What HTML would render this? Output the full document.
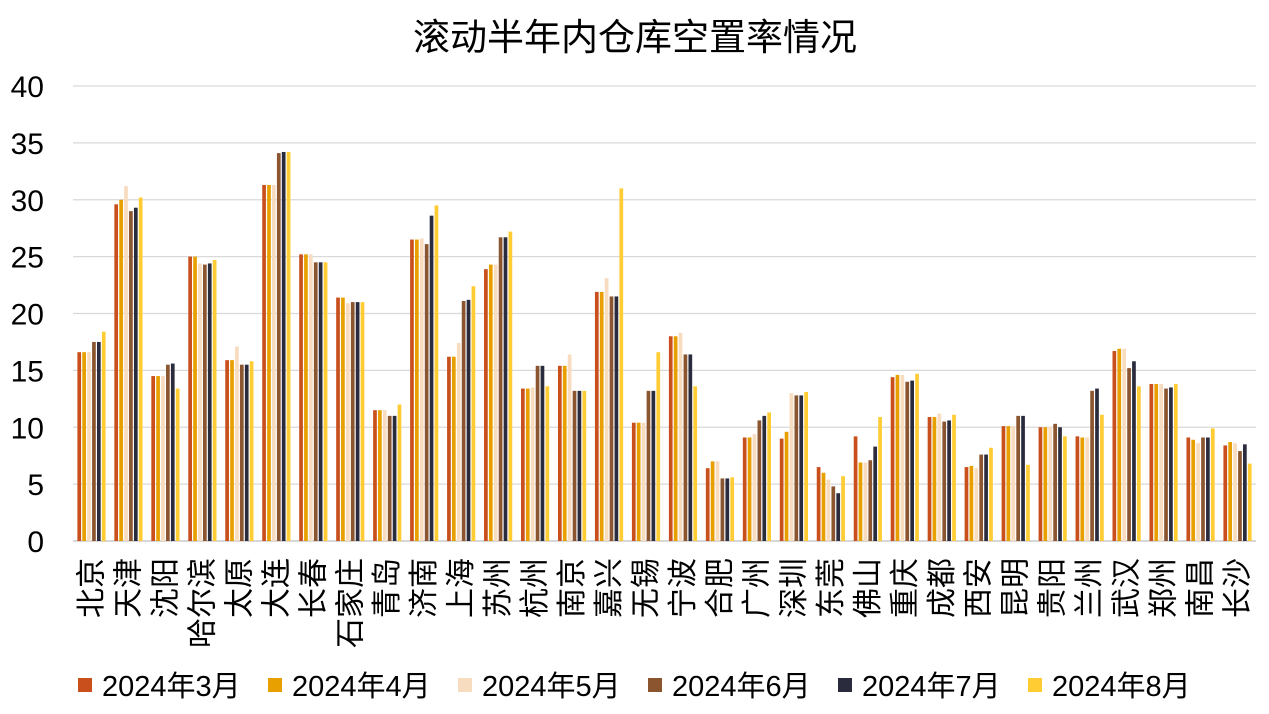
<!DOCTYPE html>
<html><head><meta charset="utf-8">
<style>
body{margin:0;background:#fff;}
svg{display:block;font-family:"Liberation Sans","Noto Sans CJK SC",sans-serif;}
</style></head>
<body>
<svg id="chart" width="1269" height="714">
<text x="635" y="50" text-anchor="middle" font-size="37" fill="#000">滚动半年内仓库空置率情况</text>
<g id="grid"></g><g id="bars"></g><g id="xlabels"></g><g id="ylabels"></g><g id="legend"></g>
</svg>
<script>
const categories=["北京","天津","沈阳","哈尔滨","太原","大连","长春","石家庄","青岛","济南","上海","苏州","杭州","南京","嘉兴","无锡","宁波","合肥","广州","深圳","东莞","佛山","重庆","成都","西安","昆明","贵阳","兰州","武汉","郑州","南昌","长沙"];
const seriesNames=["2024年3月","2024年4月","2024年5月","2024年6月","2024年7月","2024年8月"];
const s1=[16.6,29.6,14.5,25.0,15.9,31.3,25.2,21.4,11.5,26.5,16.2,23.9,13.4,15.4,21.9,10.4,18.0,6.4,9.1,9.0,6.5,9.2,14.4,10.9,6.5,10.1,10.0,9.2,16.7,13.8,9.1,8.4];
const s2=[16.6,30.0,14.5,25.0,15.9,31.3,25.2,21.4,11.5,26.5,16.2,24.3,13.4,15.4,21.9,10.4,18.0,7.0,9.1,9.6,6.0,6.9,14.6,10.9,6.6,10.1,10.0,9.1,16.9,13.8,8.9,8.7];
const s3=[16.6,31.2,14.5,24.4,17.1,31.3,25.2,20.9,11.5,26.6,17.4,24.3,13.5,16.4,23.1,10.4,18.3,7.0,9.4,13.0,5.4,6.9,14.6,11.2,6.4,10.1,10.0,9.1,16.9,13.8,8.6,8.6];
const s4=[17.5,29.0,15.5,24.3,15.5,34.1,24.5,21.0,11.0,26.1,21.1,26.7,15.4,13.2,21.5,13.2,16.4,5.5,10.6,12.8,4.8,7.1,14.0,10.5,7.6,11.0,10.3,13.2,15.2,13.4,9.1,7.9];
const s5=[17.5,29.3,15.6,24.4,15.5,34.2,24.5,21.0,11.0,28.6,21.2,26.7,15.4,13.2,21.5,13.2,16.4,5.5,11.0,12.8,4.2,8.3,14.1,10.6,7.6,11.0,10.0,13.4,15.8,13.5,9.1,8.5];
const s6=[18.4,30.2,13.4,24.7,15.8,34.2,24.5,21.0,12.0,29.5,22.4,27.2,13.6,13.2,31.0,16.6,13.6,5.6,11.3,13.1,5.7,10.9,14.7,11.1,8.2,6.7,9.2,11.1,13.6,13.8,9.9,6.8];
const yTicks=[0,5,10,15,20,25,30,35,40];
const series=[s1,s2,s3,s4,s5,s6];
const colors=["#C9501C","#E8A000","#F8DCC0","#8B5530","#2A2B3D","#FFCC33"];
const NS="http://www.w3.org/2000/svg";
const x0=73,x1=1256,yBase=541,yTop=86,yMax=40;
const bw=(x1-x0)/categories.length;
function y(v){return yBase-(v/yMax)*(yBase-yTop);}
function xc(i){return x0+bw*(i+0.5);}
function mk(tag,attrs,parent){const e=document.createElementNS(NS,tag);for(const k in attrs)e.setAttribute(k,attrs[k]);parent.appendChild(e);return e;}
const grid=document.getElementById('grid'),bars=document.getElementById('bars'),xl=document.getElementById('xlabels'),yl=document.getElementById('ylabels'),lg=document.getElementById('legend');
yTicks.forEach(t=>{
  const l=mk('line',{x1:x0,x2:x1,y1:y(t),y2:y(t),stroke:t===0?'#bfbfbf':'#d9d9d9','stroke-width':1.3},grid);
  
  
  const tx=mk('text',{x:44,y:y(t)+11,'text-anchor':'end','font-size':30,fill:'#000'},yl);
  tx.textContent=t;
  
  
});
const step=4.9,barW=3.7;
categories.forEach((c,i)=>{
  series.forEach((s,k)=>{
    const bx=xc(i)-3*step+k*step+(step-barW)/2;
    const r=mk('rect',{x:bx,y:y(s[i]),width:barW,height:yBase-y(s[i]),fill:colors[k]},bars);
    
    
  });
  const cx=xc(i)+10;
  const t=mk('text',{x:cx,y:558,'font-size':30,'text-anchor':'end',fill:'#000',transform:'rotate(-90 '+cx+' 558)'},xl);
  t.textContent=c;
  
  
});
const lx=[78,268,458,648,838,1028];
seriesNames.forEach((n,k)=>{
  const g=mk('g',{},lg);
  
  
  mk('rect',{x:lx[k],y:678,width:14,height:14,fill:colors[k]},g);
  const t=mk('text',{x:lx[k]+24,y:696,'font-size':29,fill:'#000'},g);
  t.textContent=n;
});
</script>
</body></html>
